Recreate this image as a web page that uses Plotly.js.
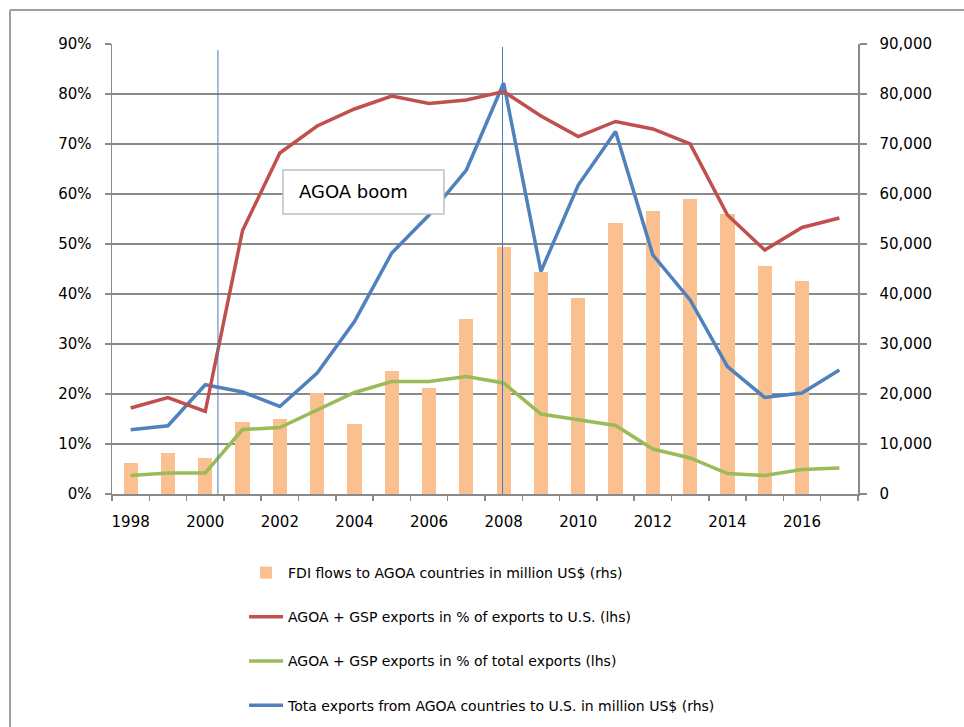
<!DOCTYPE html>
<html>
<head>
<meta charset="utf-8">
<script src="https://cdn.plot.ly/plotly-3.0.1.min.js"></script>
<style>
  html, body { margin: 0; padding: 0; background: #ffffff; }
  #chart { width: 964px; height: 727px; }
</style>
</head>
<body>
<div id="chart"></div>
<script>
// ---- data ----
const years = [1998, 1999, 2000, 2001, 2002, 2003, 2004, 2005, 2006, 2007, 2008, 2009, 2010, 2011, 2012, 2013, 2014, 2015, 2016, 2017];
const fdiFlows = [6200, 8200, 7300, 14500, 15100, 20200, 14000, 24700, 21200, 35000, 49400, 44500, 39200, 54200, 56600, 59000, 56000, 45700, 42700, null];
const agoaGspShareUS = [17.2, 19.3, 16.5, 52.7, 68.2, 73.6, 77.0, 79.6, 78.1, 78.8, 80.5, 75.6, 71.5, 74.5, 73.0, 70.0, 55.8, 48.8, 53.3, 55.2];
const agoaGspShareTotal = [3.7, 4.2, 4.2, 12.9, 13.3, 16.8, 20.3, 22.5, 22.5, 23.5, 22.2, 16.0, 14.9, 13.7, 9.0, 7.2, 4.1, 3.7, 4.9, 5.2];
const totalExportsUS = [12850, 13650, 21850, 20400, 17500, 24200, 34500, 48200, 55800, 64800, 82200, 44500, 61800, 72500, 47800, 38800, 25500, 19300, 20200, 24800];
const xLabelYears = [1998, 2000, 2002, 2004, 2006, 2008, 2010, 2012, 2014, 2016];
const boomStart = 2000.34, boomEnd = 2007.97;

const names = [
  'FDI flows to AGOA countries in million US$ (rhs)',
  'AGOA + GSP exports in % of exports to U.S. (lhs)',
  'AGOA + GSP exports in % of total exports (lhs)',
  'Tota exports from AGOA countries to U.S. in million US$ (rhs)'
];

const FONT = 'DejaVu Sans, sans-serif';
const GRID = '#8a8a8a';

// boundaries between categories for tick marks
const bounds = years.map(y => y - 0.5).concat([years[years.length - 1] + 0.5]);

const data = [
  { type: 'bar', x: years, y: fdiFlows, name: names[0], yaxis: 'y', legendgroup: 'a',
    width: 0.38, marker: { color: '#FAC090' } },
  { type: 'scatter', mode: 'lines', x: years, y: agoaGspShareUS, name: names[1], yaxis: 'y2', legendgroup: 'b',
    line: { color: '#C0504D', width: 3.5 } },
  { type: 'scatter', mode: 'lines', x: years, y: agoaGspShareTotal, name: names[2], yaxis: 'y2', legendgroup: 'c',
    line: { color: '#9BBB59', width: 3.5 } },
  { type: 'scatter', mode: 'lines', x: years, y: totalExportsUS, name: names[3], yaxis: 'y', legendgroup: 'd',
    line: { color: '#4F81BD', width: 3.5 } }
];

const layout = {
  width: 964, height: 727,
  margin: { l: 112, r: 106, t: 44, b: 233, autoexpand: false },
  paper_bgcolor: '#ffffff', plot_bgcolor: '#ffffff',
  font: { family: FONT, size: 15, color: '#000000' },
  showlegend: true,
  bargap: 0,
  xaxis: {
    range: [1997.5, 2017.5], showgrid: false, zeroline: false,
    showline: true, linecolor: GRID, linewidth: 1.5,
    tickmode: 'array', tickvals: xLabelYears, ticktext: xLabelYears.map(String),
    ticks: '', ticklabelstandoff: 13,
    minor: { tickmode: 'array', tickvals: bounds, ticks: 'outside', ticklen: 5,
             tickcolor: GRID, tickwidth: 1.5, showgrid: false },
    tickfont: { family: FONT, size: 15, color: '#000' }
  },
  yaxis: {
    side: 'right', range: [0, 90000], tickmode: 'linear', tick0: 0, dtick: 10000,
    tickformat: ',d', showgrid: true, gridcolor: GRID, gridwidth: 1.5, zeroline: false,
    showline: true, linecolor: GRID, linewidth: 1.5,
    ticks: 'outside', ticklen: 7, tickcolor: GRID, tickwidth: 1.5, ticklabelstandoff: 10,
    tickfont: { family: FONT, size: 15, color: '#000' }
  },
  yaxis2: {
    overlaying: 'y', side: 'left', range: [0, 90], tickmode: 'linear', tick0: 0, dtick: 10,
    ticksuffix: '%', showgrid: false, zeroline: false,
    showline: true, linecolor: GRID, linewidth: 1.5,
    ticks: 'outside', ticklen: 6, tickcolor: GRID, tickwidth: 1.5, ticklabelstandoff: 10,
    tickfont: { family: FONT, size: 15, color: '#000' }
  },
  legend: {
    x: 0.177, y: -0.14, xanchor: 'left', yanchor: 'top',
    orientation: 'v', traceorder: 'grouped', tracegroupgap: 23,
    font: { family: FONT, size: 14, color: '#000' },
    bgcolor: 'rgba(0,0,0,0)', itemwidth: 34
  },
  shapes: [
    // chart outer border (left and top edges visible)
    { type: 'line', xref: 'paper', yref: 'paper', x0: -0.1367, x1: -0.1367, y0: 1.0755, y1: -0.55,
      line: { color: '#a0a0a0', width: 2 } },
    { type: 'line', xref: 'paper', yref: 'paper', x0: -0.1367, x1: 1.2, y0: 1.0755, y1: 1.0755,
      line: { color: '#a0a0a0', width: 2 } },
    // AGOA boom markers
    { type: 'line', xref: 'x', yref: 'y2', x0: boomStart, x1: boomStart, y0: -0.8, y1: 88.8,
      line: { color: '#4a7ebb', width: 1 }, layer: 'above' },
    { type: 'line', xref: 'x', yref: 'y2', x0: boomEnd, x1: boomEnd, y0: -0.8, y1: 89.4,
      line: { color: '#4a7ebb', width: 1 }, layer: 'above' },
    // AGOA boom label box
    { type: 'rect', xref: 'paper', yref: 'paper', x0: 0.2292, x1: 0.4450, y0: 0.6225, y1: 0.7202,
      fillcolor: '#ffffff', line: { color: '#c0c0c0', width: 1.5 }, layer: 'above' }
  ],
  annotations: [
    { xref: 'paper', yref: 'paper', x: 0.248, y: 0.6713, xanchor: 'left', yanchor: 'middle',
      text: 'AGOA boom', showarrow: false, font: { family: FONT, size: 18, color: '#000' } }
  ]
};

Plotly.newPlot('chart', data, layout, { displayModeBar: false, staticPlot: true });
</script>
</body>
</html>
